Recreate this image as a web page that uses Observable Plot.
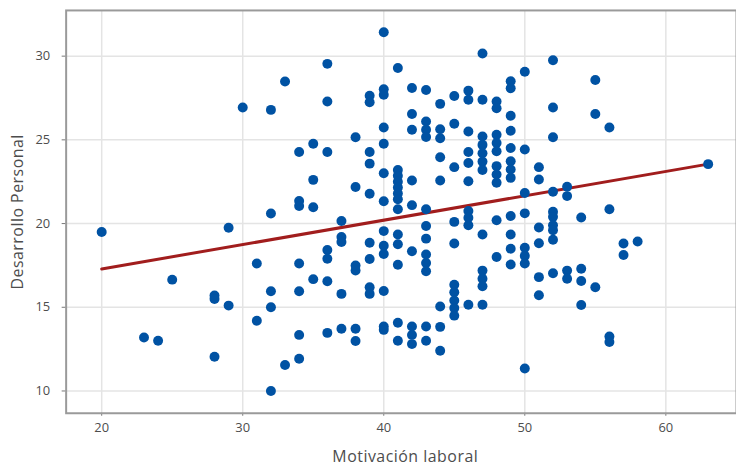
<!DOCTYPE html>
<html><head><meta charset="utf-8">
<script src="https://cdn.jsdelivr.net/npm/d3@7"></script>
<script src="https://cdn.jsdelivr.net/npm/@observablehq/plot@0.6"></script>
<style>html,body{margin:0;padding:0;overflow:hidden;background:#fff;}</style>
</head><body><div id="chart"></div>
<script>
// Motivación laboral (x) and Desarrollo Personal (y), read column by column
const motivacion = [
  20, 23, 24, 25,
  28, 28, 28,
  29, 29,
  30,
  31, 31,
  32, 32, 32, 32, 32,
  33, 33,
  34, 34, 34, 34, 34, 34, 34,
  35, 35, 35, 35,
  36, 36, 36, 36, 36, 36, 36,
  37, 37, 37, 37, 37,
  38, 38, 38, 38, 38, 38,
  39, 39, 39, 39, 39, 39, 39, 39, 39,
  40, 40, 40, 40, 40, 40, 40, 40, 40, 40, 40, 40, 40,
  41, 41, 41, 41, 41, 41, 41, 41, 41, 41, 41, 41, 41,
  42, 42, 42, 42, 42, 42, 42, 42, 42,
  43, 43, 43, 43, 43, 43, 43, 43, 43, 43, 43, 43,
  44, 44, 44, 44, 44, 44, 44, 44,
  45, 45, 45, 45, 45, 45, 45, 45, 45, 45,
  46, 46, 46, 46, 46, 46, 46, 46, 46, 46,
  47, 47, 47, 47, 47, 47, 47, 47, 47, 47, 47, 47,
  48, 48, 48, 48, 48, 48, 48, 48, 48, 48,
  49, 49, 49, 49, 49, 49, 49, 49, 49, 49, 49, 49,
  50, 50, 50, 50, 50, 50, 50, 50,
  51, 51, 51, 51, 51, 51,
  52, 52, 52, 52, 52, 52, 52, 52, 52, 52,
  53, 53, 53, 53,
  54, 54, 54, 54,
  55, 55, 55,
  56, 56, 56, 56,
  57, 57,
  58,
  63
];
const desarrollo = [
  19.5, 13.2, 13.0, 16.65,
  15.7, 15.5, 12.05,
  19.75, 15.1,
  26.93,
  17.62, 14.2,
  26.79, 20.6, 15.96, 15.0, 10.0,
  28.48, 11.55,
  24.28, 21.35, 21.05, 17.62, 15.96, 13.35, 11.92,
  24.77, 22.61, 20.98, 16.68,
  29.54, 27.29, 24.28, 18.42, 17.9, 16.56, 13.47,
  20.15, 19.2, 18.9, 15.8, 13.72,
  25.15, 22.18, 17.5, 17.2, 13.72, 12.99,
  27.64, 27.25, 24.28, 23.58, 21.78, 18.85, 17.88, 16.2, 15.8,
  31.43, 28.02, 27.7, 25.74, 24.77, 23.0, 21.33, 19.55, 18.67, 18.18, 15.97, 13.85, 13.65,
  29.29, 23.2, 22.85, 22.5, 22.15, 21.8, 21.45, 20.85, 19.35, 18.77, 17.54, 14.08, 13.0,
  28.1, 26.55, 25.6, 22.57, 21.1, 18.35, 13.85, 13.35, 12.8,
  27.98, 26.1, 25.6, 25.17, 20.85, 19.85, 19.1, 18.15, 17.65, 17.15, 13.85, 13.0,
  27.15, 25.64, 25.1, 23.96, 22.57, 15.05, 13.83, 12.4,
  27.62, 25.96, 23.37, 20.1, 18.81, 16.35, 15.9, 15.4, 14.95, 14.5,
  27.94, 27.39, 25.5, 24.28, 23.62, 22.53, 20.75, 20.35, 19.9, 15.15,
  30.16, 27.39, 25.2, 24.7, 24.2, 23.7, 23.2, 19.35, 17.19, 16.7, 16.25, 15.15,
  27.29, 26.89, 25.3, 24.81, 24.32, 23.43, 22.93, 22.44, 20.2, 18.0,
  28.5, 28.08, 26.44, 25.54, 24.51, 23.72, 23.23, 22.73, 20.45, 19.35, 18.5, 17.55,
  29.07, 24.42, 21.82, 20.61, 18.55, 18.07, 17.61, 11.34,
  23.37, 22.63, 19.76, 18.82, 16.8, 15.72,
  29.76, 26.93, 25.15, 21.9, 20.7, 20.4, 19.9, 19.6, 19.03, 17.03,
  22.2, 21.64, 17.19, 16.7,
  20.36, 17.3, 16.57, 15.13,
  28.57, 26.55, 16.2,
  25.74, 20.86, 13.25, 12.93,
  18.81, 18.12,
  18.93,
  23.55
];
// fitted regression line endpoints
const fitX = [20, 63];
const fitY = [17.29, 23.55];
// axes
const xTicks = [20, 30, 40, 50, 60];
const yTicks = [10, 15, 20, 25, 30];
const xLabel = "Motivación laboral";
const yLabel = "Desarrollo Personal";

const points = motivacion.map((x, i) => ({x, y: desarrollo[i]}));
const fit = fitX.map((x, i) => ({x, y: fitY[i]}));

const chart = Plot.plot({
  width: 740, height: 470,
  marginTop: 10, marginBottom: 55, marginLeft: 66, marginRight: 0,
  style: {fontFamily: "Open Sans", fontSize: "13px", color: "#4d4d4d", background: "#fff"},
  x: {domain: [17.48, 65.01]},
  y: {domain: [8.67, 32.73]},
  marks: [
    Plot.gridX(xTicks, {stroke: "#e4e4e4", strokeOpacity: 1, strokeWidth: 1.5}),
    Plot.gridY(yTicks, {stroke: "#e4e4e4", strokeOpacity: 1, strokeWidth: 1.5}),
    Plot.axisX(xTicks, {tickSize: 3, tickPadding: 7, label: null, stroke: "#777", fill: "#4d4d4d"}),
    Plot.axisY(yTicks, {tickSize: 4, tickPadding: 12, label: null, stroke: "#777", fill: "#4d4d4d"}),
    Plot.frame({stroke: "#9a9a9a", strokeWidth: 2}),
    Plot.line(fit, {x: "x", y: "y", stroke: "#a11d1d", strokeWidth: 3}),
    Plot.dot(points, {x: "x", y: "y", r: 5, fill: "#0052a3"}),
    Plot.text([xLabel], {frameAnchor: "bottom", textAnchor: "middle", lineAnchor: "middle", dx: 4, dy: 44, text: d => d, fontSize: 16, fill: "#4d4d4d"}),
    Plot.text([yLabel], {frameAnchor: "left", textAnchor: "middle", lineAnchor: "middle", dx: -48, rotate: -90, text: d => d, fontSize: 16, fill: "#4d4d4d"})
  ]
});
chart.querySelectorAll("text").forEach(t => {
  if (t.textContent === xLabel || t.textContent === yLabel) t.style.letterSpacing = "0.5px";
});
document.getElementById("chart").append(chart);
</script>
</body></html>
